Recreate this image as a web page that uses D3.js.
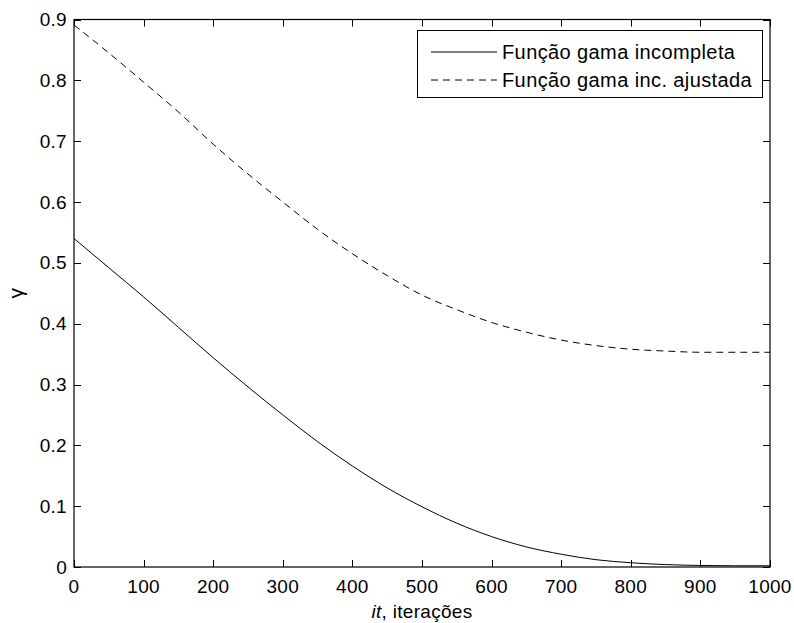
<!DOCTYPE html>
<html>
<head>
<meta charset="utf-8">
<script src="https://cdn.jsdelivr.net/npm/d3@7"></script>
<style>
  body { margin: 0; background: #fff; }
  svg { display: block; font-family: "Liberation Sans", Arial, Helvetica, sans-serif; }
</style>
</head>
<body>
<svg id="chart" width="794" height="623"></svg>
<script>
// Iteration samples
const iterations = [0, 50, 100, 150, 200, 250, 300, 350, 400, 450, 500,
                    550, 600, 650, 700, 750, 800, 850, 900, 950, 1000];
// Incomplete gamma function
const gammaIncompleta = [0.540, 0.492, 0.444, 0.394, 0.344, 0.296, 0.250, 0.206, 0.166, 0.130, 0.099,
                         0.072, 0.050, 0.033, 0.021, 0.012, 0.007, 0.004, 0.0025, 0.002, 0.002];
// Adjusted incomplete gamma function
const gammaAjustada = [0.891, 0.845, 0.797, 0.748, 0.695, 0.646, 0.600, 0.555, 0.515, 0.479, 0.447,
                       0.423, 0.402, 0.386, 0.373, 0.364, 0.358, 0.355, 0.353, 0.353, 0.353];
const xTicks = [0, 100, 200, 300, 400, 500, 600, 700, 800, 900, 1000];
const yTicks = [0, 0.1, 0.2, 0.3, 0.4, 0.5, 0.6, 0.7, 0.8, 0.9];
const seriesNames = ["Função gama incompleta", "Função gama inc. ajustada"];

const svg = d3.select("#chart");
const plotLeft = 74, plotRight = 770, plotTop = 19.5, plotBottom = 567;

const x = d3.scaleLinear().domain([0, 1000]).range([plotLeft, plotRight]);
const y = d3.scaleLinear().domain([0, 0.9]).range([plotBottom, plotTop]);

const tickLen = 7;
const fmt = d => (d === 0 ? "0" : d3.format(".1f")(d));

// Axes box with inward ticks on all four sides
const axisG = svg.append("g");
axisG.append("rect")
  .attr("x", plotLeft).attr("y", plotTop)
  .attr("width", plotRight - plotLeft).attr("height", plotBottom - plotTop)
  .attr("fill", "none").attr("stroke", "#000").attr("stroke-width", 1.2);

xTicks.forEach(t => {
  const px = Math.round(x(t)) + 0.5;
  axisG.append("line").attr("x1", px).attr("x2", px).attr("y1", plotBottom).attr("y2", plotBottom - tickLen)
    .attr("stroke", "#000").attr("stroke-width", 1);
  axisG.append("line").attr("x1", px).attr("x2", px).attr("y1", plotTop).attr("y2", plotTop + tickLen)
    .attr("stroke", "#000").attr("stroke-width", 1);
  axisG.append("text").attr("x", x(t)).attr("y", 593)
    .attr("text-anchor", "middle").attr("font-size", 19).attr("letter-spacing", 0.3)
    .text(t);
});

yTicks.forEach(t => {
  const py = Math.round(y(t)) + 0.5;
  axisG.append("line").attr("x1", plotLeft).attr("x2", plotLeft + tickLen).attr("y1", py).attr("y2", py)
    .attr("stroke", "#000").attr("stroke-width", 1);
  axisG.append("line").attr("x1", plotRight).attr("x2", plotRight - tickLen).attr("y1", py).attr("y2", py)
    .attr("stroke", "#000").attr("stroke-width", 1);
  axisG.append("text").attr("x", 67).attr("y", y(t))
    .attr("text-anchor", "end").attr("dominant-baseline", "central")
    .attr("font-size", 19).attr("letter-spacing", 0.3)
    .text(fmt(t));
});

// Axis titles
const xl = svg.append("text").attr("x", (plotLeft + plotRight) / 2).attr("y", 618)
  .attr("text-anchor", "middle").attr("font-size", 19).attr("letter-spacing", 0.3);
xl.append("tspan").attr("font-style", "italic").text("it");
xl.append("tspan").text(", iterações");

svg.append("text")
  .attr("transform", `translate(23,${(plotTop + plotBottom) / 2}) rotate(-90)`)
  .attr("text-anchor", "middle").attr("font-size", 21)
  .text("γ");

// Curves
const line = d3.line()
  .x((d, i) => x(iterations[i]))
  .y(d => y(d))
  .curve(d3.curveMonotoneX);

svg.append("path").datum(gammaIncompleta)
  .attr("d", line).attr("fill", "none").attr("stroke", "#000").attr("stroke-width", 1);

svg.append("path").datum(gammaAjustada)
  .attr("d", line).attr("fill", "none").attr("stroke", "#000").attr("stroke-width", 1)
  .attr("stroke-dasharray", "7,5");

// Legend
const lg = svg.append("g");
lg.append("rect").attr("x", 417.5).attr("y", 30.5).attr("width", 345).attr("height", 67)
  .attr("fill", "#fff").attr("stroke", "#000").attr("stroke-width", 1);
const dashes = [null, "7,5"];
seriesNames.forEach((name, i) => {
  const cy = 52 + i * 28;
  const l = lg.append("line").attr("x1", 431).attr("x2", 497).attr("y1", cy).attr("y2", cy)
    .attr("stroke", "#000").attr("stroke-width", 1);
  if (dashes[i]) l.attr("stroke-dasharray", dashes[i]);
  lg.append("text").attr("x", 502).attr("y", cy)
    .attr("dominant-baseline", "central").attr("font-size", 20).attr("letter-spacing", 0.4)
    .text(name);
});
</script>
</body>
</html>
